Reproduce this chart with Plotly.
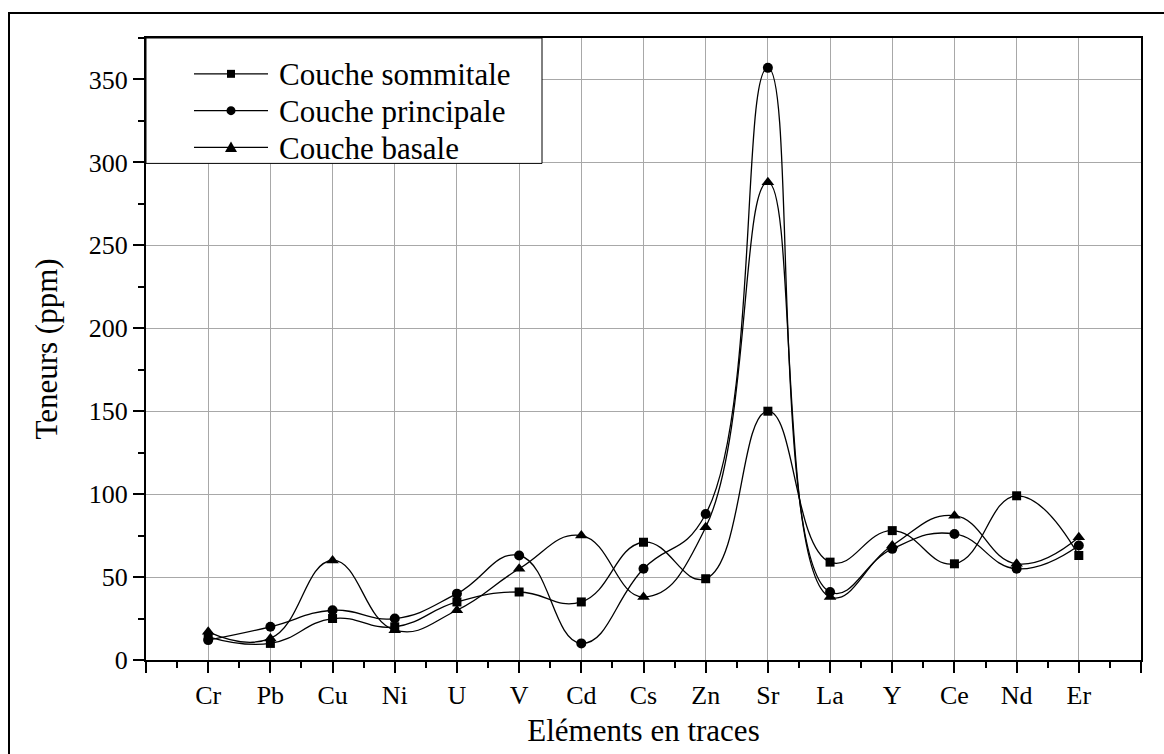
import plotly.graph_objects as go

# Trace elements (x axis) and contents in ppm for the three layers
elements = ["Cr", "Pb", "Cu", "Ni", "U", "V", "Cd", "Cs", "Zn", "Sr", "La", "Y", "Ce", "Nd", "Er"]
sommitale = [14, 10, 25, 20, 35, 41, 35, 71, 49, 150, 59, 78, 58, 99, 63]
principale = [12, 20, 30, 25, 40, 63, 10, 55, 88, 357, 41, 67, 76, 55, 69]
basale = [17, 13, 60, 18, 30, 55, 75, 38, 80, 288, 38, 69, 87, 58, 74]

series = [
    ("Couche sommitale", sommitale, "square", 9),
    ("Couche principale", principale, "circle", 10),
    ("Couche basale", basale, "triangle-up", 11),
]

positions = list(range(1, len(elements) + 1))
x_max = len(elements) + 1

FONT = "Liberation Serif"
W, H = 1164, 754
ML, MR, MT, MB = 146, 23, 38, 91
plot_w = W - ML - MR
plot_h = H - MT - MB


def px(x):
    """Pixel column -> paper x."""
    return (x - ML) / plot_w


def py(y):
    """Pixel row (from top) -> paper y."""
    return (H - MB - y) / plot_h


fig = go.Figure()
for name, values, symbol, size in series:
    fig.add_trace(go.Scatter(
        x=positions, y=values, name=name,
        mode="lines+markers",
        line=dict(color="black", width=1.3, shape="spline", smoothing=1.3),
        marker=dict(symbol=symbol, size=size, color="black"),
        showlegend=False,
    ))

fig.update_layout(
    width=W, height=H,
    margin=dict(l=ML, r=MR, t=MT, b=MB),
    paper_bgcolor="white", plot_bgcolor="white",
    font=dict(family=FONT, color="black", size=26),
)

fig.update_xaxes(
    range=[0, x_max],
    tickmode="array",
    tickvals=[0] + positions + [x_max],
    ticktext=[""] + elements + [""],
    ticks="outside", ticklen=11, tickwidth=2, tickcolor="black",
    minor=dict(dtick=0.5, tick0=0, ticks="outside", ticklen=6, tickwidth=2,
               tickcolor="black", showgrid=False),
    showline=True, linecolor="black", linewidth=2, mirror=True,
    showgrid=True, gridcolor="#a8a8a8", gridwidth=1,
    zeroline=False,
    tickfont=dict(family=FONT, size=26),
    title=dict(text="Eléments en traces", font=dict(family=FONT, size=31), standoff=10),
)

fig.update_yaxes(
    range=[0, 375],
    tick0=0, dtick=50,
    ticks="outside", ticklen=11, tickwidth=2, tickcolor="black",
    minor=dict(dtick=25, tick0=0, ticks="outside", ticklen=6, tickwidth=2,
               tickcolor="black", showgrid=False),
    showline=True, linecolor="black", linewidth=2, mirror=True,
    showgrid=True, gridcolor="#a8a8a8", gridwidth=1,
    zeroline=False,
    tickfont=dict(family=FONT, size=26),
    title=dict(text="Teneurs (ppm)", font=dict(family=FONT, size=31), standoff=22),
)

# Outer frame around the whole figure (visible on the top and left edges)
fig.add_shape(
    type="rect", xref="paper", yref="paper",
    x0=px(9), x1=px(1175), y0=py(765), y1=py(13),
    line=dict(color="black", width=2), fillcolor="rgba(0,0,0,0)",
    layer="above",
)

# Legend box in the upper-left corner of the plot area
fig.add_shape(
    type="rect", xref="paper", yref="paper",
    x0=px(ML), x1=px(542), y0=py(164), y1=py(MT),
    line=dict(color="black", width=1), fillcolor="white",
    layer="above",
)

legend_rows = [74, 111, 148]
line_x0, line_x1, sym_x, text_x = 194, 268, 231, 277
for (name, _, symbol, size), row in zip(series, legend_rows):
    fig.add_shape(
        type="line", xref="paper", yref="paper",
        x0=px(line_x0), x1=px(line_x1), y0=py(row), y1=py(row),
        line=dict(color="black", width=1.2), layer="above",
    )
    half = 4.5
    if symbol == "square":
        fig.add_shape(
            type="rect", xref="paper", yref="paper",
            x0=px(sym_x - 4), x1=px(sym_x + 4), y0=py(row + 4), y1=py(row - 4),
            line=dict(color="black", width=0), fillcolor="black", layer="above",
        )
    elif symbol == "circle":
        fig.add_shape(
            type="circle", xref="paper", yref="paper",
            x0=px(sym_x - half), x1=px(sym_x + half), y0=py(row + half), y1=py(row - half),
            line=dict(color="black", width=0), fillcolor="black", layer="above",
        )
    else:
        path = "M {:.5f},{:.5f} L {:.5f},{:.5f} L {:.5f},{:.5f} Z".format(
            px(sym_x - 6), py(row + 4.5),
            px(sym_x + 6), py(row + 4.5),
            px(sym_x), py(row - 6),
        )
        fig.add_shape(
            type="path", xref="paper", yref="paper", path=path,
            line=dict(color="black", width=0), fillcolor="black", layer="above",
        )
    fig.add_annotation(
        x=px(text_x), y=py(row + 1), xref="paper", yref="paper",
        xanchor="left", yanchor="middle", showarrow=False,
        text=name, font=dict(family=FONT, size=31, color="black"),
    )

fig.write_html("out.html")
